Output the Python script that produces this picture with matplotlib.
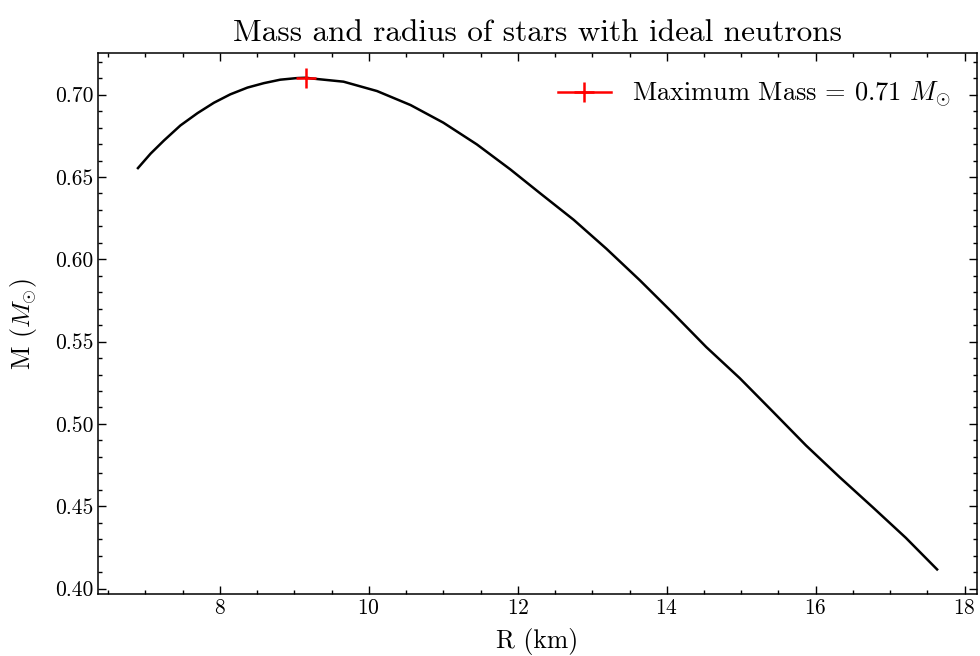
import matplotlib
matplotlib.use('Agg')
import matplotlib.pyplot as plt
from matplotlib.ticker import MultipleLocator, FormatStrFormatter

plt.rcParams['font.family'] = ['cmr10', 'DejaVu Serif']
plt.rcParams['mathtext.fontset'] = 'cm'
plt.rcParams['axes.formatter.use_mathtext'] = True

# radius (km) and mass (solar masses)
R = [6.90, 7.07, 7.25, 7.47, 7.70, 7.92, 8.14, 8.37, 8.59, 8.81, 9.04, 9.16,
     9.22, 9.66, 10.11, 10.56, 11.00, 11.45, 11.90, 12.30, 12.75, 13.19,
     13.64, 14.09, 14.53, 14.98, 15.43, 15.87, 16.32, 16.77, 17.21, 17.63]
M = [0.6554, 0.6642, 0.6722, 0.6813, 0.6888, 0.6951, 0.7002, 0.7043, 0.7070,
     0.7091, 0.7101, 0.7103, 0.7099, 0.7079, 0.7022, 0.6937, 0.6830, 0.6698,
     0.6546, 0.6401, 0.6240, 0.6064, 0.5872, 0.5670, 0.5467, 0.5278, 0.5072,
     0.4869, 0.4677, 0.4492, 0.4308, 0.4116]
R_max = 9.16
M_max = 0.7103

fig = plt.figure(figsize=(9.8, 6.56), dpi=100)
ax = fig.add_axes([0.1, 0.0945, 0.897, 0.8245])

ax.plot(R, M, color='black', lw=1.8)
ax.plot([R_max], [M_max], '-+', color='red', ms=14, mew=1.8, lw=1.8,
        label=r'Maximum Mass = 0.71 $M_{\odot}$')

ax.set_title('Mass and radius of stars with ideal neutrons', fontsize=22.5, pad=9)
ax.set_xlabel('R (km)', fontsize=18.5, labelpad=7)
ax.set_ylabel(r'M ($M_{\odot}$)', fontsize=18.5, labelpad=11)

ax.xaxis.set_major_locator(MultipleLocator(2))
ax.xaxis.set_minor_locator(MultipleLocator(0.5))
ax.yaxis.set_major_locator(MultipleLocator(0.05))
ax.yaxis.set_minor_locator(MultipleLocator(0.01))
ax.yaxis.set_major_formatter(FormatStrFormatter('%.2f'))
ax.tick_params(which='both', direction='in', top=True, right=True, labelsize=15.5, width=1.0)
ax.tick_params(which='major', length=6)
ax.tick_params(which='minor', length=3)
for s in ax.spines.values():
    s.set_linewidth(1.1)

ax.legend(loc='upper right', frameon=False, fontsize=19, handlelength=2.0,
          borderaxespad=0.6)

fig.savefig('out.png', dpi=100)
